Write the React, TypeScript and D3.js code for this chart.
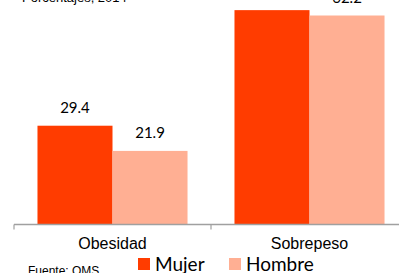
import React from "react";
import * as d3 from "d3";

const categories = ["Obesidad", "Sobrepeso"];
const seriesNames = ["Mujer", "Hombre"];
const mujer = [29.4, 63.8];
const hombre = [21.9, 62.2];
const colors = ["#FF3C00", "#FFAF93"];

export default function App() {
  const W = 399, H = 273;
  const baseline = 224.5;
  const x = d3.scaleBand<string>().domain(categories).range([14, 14 + 197 * 2]).paddingInner(0).paddingOuter(0);
  const inner = d3.scaleBand<string>().domain(seriesNames).range([0, x.bandwidth()]).paddingInner(0).paddingOuter(0.313);
  const y = d3.scaleLinear().domain([0, 10]).range([baseline, baseline - 33.6]);
  const series = [mujer, hombre];
  return (
    <svg width={W} height={H} style={{ position: "absolute", left: 0, top: 0 }}>
      <text x={22} y={2} fontFamily="Liberation Sans, Arial" fontSize={13} fill="#000">Porcentajes, 2014</text>
      {categories.map((c, ci) =>
        series.map((s, si) => {
          const bx = (x(c) as number) + (inner(seriesNames[si]) as number);
          const bw = inner.bandwidth();
          const top = y(s[ci]);
          return (
            <g key={c + si}>
              <rect x={bx} y={top} width={bw} height={baseline - top} fill={colors[si]} />
              <text x={bx + bw / 2} y={top - 13} textAnchor="middle" fontFamily="Lato, Carlito, sans-serif" fontSize={15} fill="#000">
                {s[ci].toFixed(1)}
              </text>
            </g>
          );
        })
      )}
      <line x1={14} x2={W} y1={baseline} y2={baseline} stroke="#A0A0A0" strokeWidth={1.5} />
      {[0, 1, 2].map((i) => (
        <line key={i} x1={14 + 197 * i} x2={14 + 197 * i} y1={baseline} y2={baseline + 5} stroke="#A0A0A0" strokeWidth={1.2} />
      ))}
      {categories.map((c) => (
        <text key={c} x={(x(c) as number) + x.bandwidth() / 2} y={249} textAnchor="middle" fontFamily="Liberation Sans Narrow, Liberation Sans, Arial" fontSize={16} fill="#000">
          {c}
        </text>
      ))}
      <text x={28} y={275} fontFamily="Liberation Sans, Arial" fontSize={12} fill="#000">Fuente: OMS</text>
      {seriesNames.map((n, i) => {
        const lx = [138, 229][i];
        return (
          <g key={n}>
            <rect x={lx} y={258} width={12} height={12} fill={colors[i]} />
            <text x={lx + 17} y={271} fontFamily="Lato, Carlito, sans-serif" fontSize={19} fill="#000">{n}</text>
          </g>
        );
      })}
    </svg>
  );
}
